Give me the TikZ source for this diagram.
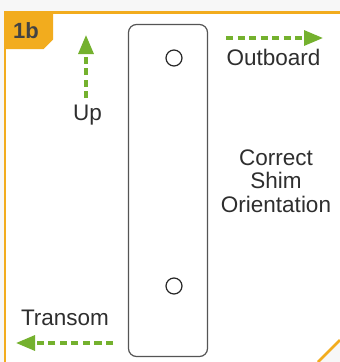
\documentclass[tikz,border=0pt]{standalone}
\usepackage{fontspec}
\setmainfont{Liberation Sans}
\usetikzlibrary{arrows.meta}
\definecolor{frameorange}{HTML}{F2AC1E}
\definecolor{arrowgreen}{HTML}{74B12E}
\definecolor{textgray}{HTML}{2E2E2E}
\definecolor{shimgray}{HTML}{555555}
\definecolor{outside}{HTML}{F7F7F7}
\tikzset{
  dirarrow/.style={draw=arrowgreen, line width=3.2bp, dash pattern=on 7bp off 4.5bp,
    -{Triangle[length=19bp,width=15bp,fill=arrowgreen]}},
  lbl/.style={text=textgray, font=\fontsize{22.5bp}{24bp}\selectfont, inner sep=0pt, align=center},
  hole/.style={draw=black!85, line width=1.2bp, circle, minimum size=16bp, inner sep=0pt},
}
\begin{document}
\begin{tikzpicture}[x=1bp,y=-1bp]
\useasboundingbox (0,0) rectangle (340,362);
% background outside the frame
\fill[outside] (0,0) rectangle (340,362);
\fill[white] (5,12) -- (340,12) -- (340,340) -- (318,362) -- (5,362) -- cycle;
% frame lines
\draw[frameorange, line width=2.2bp] (5,362) -- (5,12.5) -- (340,12.5);
\draw[frameorange, line width=2.6bp] (318,362) -- (340,340);
% label tab
\fill[frameorange] (4,12) -- (53,12) -- (53,39.5) -- (43.5,49) -- (4,49) -- cycle;
\node[text=textgray!90, font=\fontsize{22bp}{24bp}\selectfont\bfseries, inner sep=0pt] (tab) at (26,30.5) {1b};
% shim
\node[draw=shimgray, line width=1.2bp, rounded corners=8bp, minimum width=79bp, minimum height=332bp, inner sep=0pt] (shim) at (168,190.5) {};
\node[hole] (holetop) at (174,58) {};
\node[hole] (holebot) at (174,286) {};
% labels
\node[lbl] (up) at (87.5,115) {Up};
\node[lbl] (outboard) at (273.5,57) {Outboard};
\node[lbl] (transom) at (65,318) {Transom};
\node[lbl] (correct) at (276,181) {Correct\\[-0.5bp]Shim\\[-0.5bp]Orientation};
% arrows
\coordinate (upS) at (86,98);
\coordinate (upE) at (86,35);
\coordinate (obS) at (226,38);
\coordinate (obE) at (323,38);
\coordinate (trS) at (113,343);
\coordinate (trE) at (16,343);
\draw[dirarrow] (upS) -- (upE);
\draw[dirarrow] (obS) -- (obE);
\draw[dirarrow] (trS) -- (trE);
\end{tikzpicture}
\end{document}
